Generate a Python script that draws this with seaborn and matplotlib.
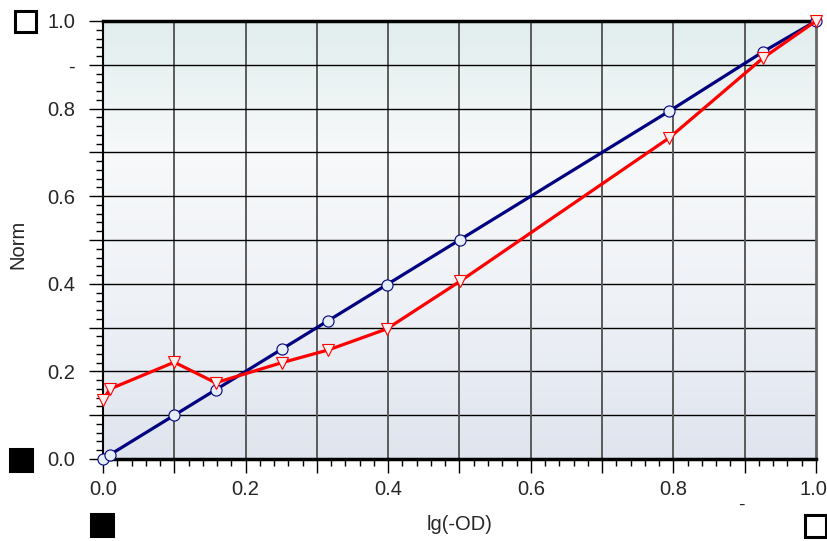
import numpy as np
import pandas as pd
import matplotlib.pyplot as plt
import matplotlib.transforms as mtransforms
import seaborn as sns
from matplotlib.colors import LinearSegmentedColormap
from matplotlib.patches import Rectangle

# data
x_vals = [0.0, 0.01, 0.1, 0.158, 0.251, 0.316, 0.398, 0.501, 0.794, 0.926, 1.0]
norm_blue = [0.0, 0.01, 0.1, 0.158, 0.251, 0.316, 0.398, 0.501, 0.794, 0.93, 1.0]
norm_red = [0.135, 0.16, 0.221, 0.174, 0.22, 0.249, 0.297, 0.406, 0.733, 0.916, 1.0]
y_tick_labels = ['0.0', '', '0.2', '', '0.4', '', '0.6', '', '0.8', '-', '1.0']
x_tick_labels = ['0.0', '', '0.2', '', '0.4', '', '0.6', '', '0.8', '', '1.0']

df = pd.DataFrame({
    'lg(-OD)': x_vals * 2,
    'Norm': norm_blue + norm_red,
    'series': ['blue'] * len(x_vals) + ['red'] * len(x_vals),
})

sns.set_style('white')
plt.rcParams['font.family'] = ['Liberation Sans', 'DejaVu Sans']

fig = plt.figure(figsize=(8.28, 5.41), dpi=100)
ax = fig.add_axes([103 / 828, 1 - 459 / 541, 713 / 828, 438 / 541])

# background gradient
cmap = LinearSegmentedColormap.from_list(
    'bg', [(0.0, '#dfe4ee'), (0.35, '#eef1f6'), (0.7, '#f7f9fa'), (1.0, '#e1eded')])
grad = np.linspace(0, 1, 256).reshape(-1, 1)
ax.imshow(grad, cmap=cmap, extent=[0, 1, 0, 1], origin='lower',
          aspect='auto', zorder=0)

ticks = np.round(np.arange(0, 1.01, 0.1), 1)
for t in ticks[1:-1]:
    ax.axvline(t, color='#5a5a5a', lw=1.4, zorder=1)
    ax.axhline(t, color='black', lw=1.0, zorder=1)

sns.lineplot(data=df, x='lg(-OD)', y='Norm', hue='series', style='series',
             palette={'blue': '#000080', 'red': '#ff0000'},
             markers={'blue': 'o', 'red': 'v'}, dashes=False,
             linewidth=2.3, markersize=8, legend=False, ax=ax, zorder=5)
for line, face in zip(ax.lines[-2:], ['#e6eef8', '#fdf0f0']):
    line.set_markerfacecolor(face)
    line.set_markeredgecolor(line.get_color())
    line.set_markeredgewidth(0.8)
    line.set_clip_on(False)

ax.set_xlim(0, 1)
ax.set_ylim(0, 1)
ax.set_xticks(ticks)
ax.set_yticks(ticks)
ax.set_xticklabels(x_tick_labels, fontsize=14.5)
ax.set_yticklabels(y_tick_labels, fontsize=14.5)
ax.set_xticks(np.arange(0, 1.001, 0.02), minor=True)
ax.set_yticks(np.arange(0, 1.001, 0.02), minor=True)
ax.tick_params(which='major', direction='out', length=10, width=1, color='black')
ax.tick_params(which='minor', direction='out', length=5, width=1, color='black')
ax.tick_params(axis='x', which='both', bottom=True, pad=5)
ax.tick_params(axis='y', which='both', left=True, pad=10)

# nudge the last x label so it stays inside the figure
last = ax.get_xticklabels()[-1]
last.set_transform(last.get_transform() +
                   mtransforms.ScaledTranslation(-3 / 100, 0, fig.dpi_scale_trans))

ax.set_xlabel('lg(-OD)', fontsize=14.5)
ax.set_ylabel('Norm', fontsize=14.5, va='center')
ax.xaxis.set_label_coords(0.5, -0.128)
ax.yaxis.set_label_coords(-0.119, 0.49)

for side, lw, col in [('top', 2.5, 'black'), ('bottom', 2.5, 'black'),
                      ('left', 1.5, 'black'), ('right', 2, '#666666')]:
    ax.spines[side].set_visible(True)
    ax.spines[side].set_linewidth(lw)
    ax.spines[side].set_color(col)
    ax.spines[side].set_zorder(4)

# stray dash under the x axis near 0.9
ax.text(0.896, -0.105, '-', transform=ax.transAxes, fontsize=14,
        ha='center', va='center')

# small squares around the axes (figure pixel coordinates)
def square(x0, y0, x1, y1, filled):
    fig.patches.append(Rectangle(
        (x0 / 828, 1 - y1 / 541), (x1 - x0) / 828, (y1 - y0) / 541,
        transform=fig.transFigure, facecolor='black' if filled else 'white',
        edgecolor='black', linewidth=2.2))

square(15, 11, 36, 32, False)
square(10, 449, 32, 471, True)
square(91, 514, 113, 536, True)
square(805, 515, 826, 537, False)

fig.savefig('out.png', dpi=100)
